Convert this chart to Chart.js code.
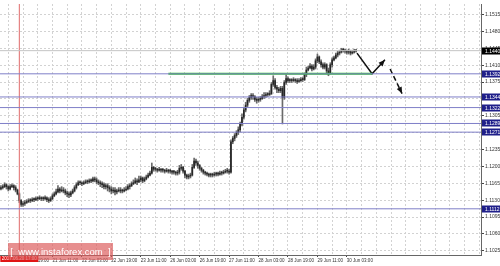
<!DOCTYPE html>
<html>
<head>
<meta charset="utf-8">
<script src="https://cdn.jsdelivr.net/npm/chart.js@4.4.0/dist/chart.umd.min.js"></script>
<style>
  html, body { margin: 0; padding: 0; background: #fff; }
  #wrap { width: 500px; height: 266px; }
</style>
</head>
<body>
<div id="wrap"><canvas id="chart" width="500" height="266"></canvas></div>
<script>
// hourly bars, 20 Jun - 30 Jun 2017 (weekend skipped), one value per bar
let opens = [
  1.1153,1.1156,1.1158,1.1162,1.1158,1.1153,1.1158,1.1160,
  1.1156,1.1151,1.1143,1.1129,1.1121,1.1123,1.1125,1.1127,
  1.1129,1.1129,1.1131,1.1131,1.1133,1.1133,1.1135,1.1133,
  1.1133,1.1135,1.1131,1.1129,1.1133,1.1139,1.1143,1.1147,
  1.1153,1.1149,1.1151,1.1149,1.1145,1.1143,1.1141,1.1145,
  1.1149,1.1156,1.1162,1.1166,1.1166,1.1164,1.1166,1.1168,
  1.1168,1.1170,1.1170,1.1174,1.1172,1.1168,1.1166,1.1164,
  1.1162,1.1158,1.1160,1.1156,1.1153,1.1149,1.1151,1.1147,
  1.1149,1.1151,1.1149,1.1149,1.1151,1.1153,1.1158,1.1160,
  1.1164,1.1166,1.1170,1.1168,1.1172,1.1176,1.1170,1.1174,
  1.1178,1.1182,1.1186,1.1198,1.1194,1.1194,1.1192,1.1194,
  1.1192,1.1192,1.1190,1.1192,1.1190,1.1190,1.1188,1.1188,
  1.1186,1.1188,1.1196,1.1198,1.1190,1.1182,1.1178,1.1180,
  1.1182,1.1198,1.1211,1.1207,1.1202,1.1196,1.1192,1.1188,
  1.1186,1.1184,1.1182,1.1182,1.1182,1.1184,1.1184,1.1184,
  1.1186,1.1186,1.1188,1.1190,1.1190,1.1188,1.1251,1.1258,
  1.1264,1.1270,1.1276,1.1288,1.1302,1.1317,1.1327,1.1337,
  1.1343,1.1347,1.1345,1.1339,1.1337,1.1339,1.1341,1.1345,
  1.1347,1.1349,1.1349,1.1351,1.1370,1.1378,1.1364,1.1360,
  1.1357,1.1362,1.1343,1.1374,1.1382,1.1378,1.1378,1.1378,
  1.1380,1.1378,1.1376,1.1378,1.1380,1.1380,1.1390,1.1400,
  1.1404,1.1408,1.1402,1.1406,1.1419,1.1427,1.1417,1.1411,
  1.1406,1.1411,1.1398,1.1394,1.1411,1.1421,1.1425,1.1431,
  1.1435,1.1437,1.1441,1.1441,1.1439,1.1437,1.1439,1.1435,
  1.1437,1.1439
]
let highs = [
  1.1160,1.1162,1.1166,1.1164,1.1160,1.1162,1.1164,1.1162,
  1.1160,1.1153,1.1145,1.1131,1.1127,1.1129,1.1131,1.1133,
  1.1133,1.1135,1.1135,1.1137,1.1137,1.1139,1.1137,1.1137,
  1.1139,1.1137,1.1135,1.1137,1.1143,1.1147,1.1153,1.1160,
  1.1156,1.1158,1.1156,1.1153,1.1149,1.1147,1.1149,1.1153,
  1.1160,1.1166,1.1170,1.1170,1.1168,1.1170,1.1172,1.1172,
  1.1174,1.1174,1.1178,1.1178,1.1176,1.1172,1.1170,1.1168,
  1.1166,1.1164,1.1164,1.1160,1.1158,1.1156,1.1156,1.1153,
  1.1156,1.1156,1.1153,1.1156,1.1158,1.1162,1.1164,1.1168,
  1.1172,1.1176,1.1174,1.1180,1.1180,1.1178,1.1178,1.1182,
  1.1186,1.1190,1.1207,1.1200,1.1198,1.1196,1.1198,1.1196,
  1.1196,1.1194,1.1196,1.1194,1.1194,1.1192,1.1192,1.1190,
  1.1192,1.1202,1.1204,1.1200,1.1192,1.1184,1.1184,1.1186,
  1.1204,1.1217,1.1215,1.1211,1.1204,1.1198,1.1194,1.1190,
  1.1188,1.1186,1.1186,1.1186,1.1188,1.1188,1.1188,1.1190,
  1.1190,1.1192,1.1194,1.1196,1.1194,1.1255,1.1262,1.1268,
  1.1274,1.1282,1.1292,1.1309,1.1323,1.1333,1.1341,1.1347,
  1.1351,1.1351,1.1347,1.1343,1.1343,1.1345,1.1349,1.1353,
  1.1353,1.1353,1.1357,1.1374,1.1388,1.1382,1.1368,1.1364,
  1.1366,1.1366,1.1378,1.1390,1.1386,1.1382,1.1382,1.1384,
  1.1382,1.1382,1.1382,1.1384,1.1384,1.1394,1.1406,1.1408,
  1.1413,1.1411,1.1411,1.1423,1.1433,1.1429,1.1421,1.1415,
  1.1415,1.1413,1.1404,1.1415,1.1425,1.1429,1.1435,1.1439,
  1.1441,1.1445,1.1445,1.1443,1.1441,1.1443,1.1441,1.1441,
  1.1443,1.1443
]
let lows = [
  1.1151,1.1153,1.1156,1.1153,1.1149,1.1151,1.1156,1.1151,
  1.1147,1.1141,1.1125,1.1117,1.1117,1.1119,1.1123,1.1125,
  1.1125,1.1127,1.1127,1.1129,1.1129,1.1131,1.1129,1.1129,
  1.1131,1.1127,1.1125,1.1127,1.1131,1.1137,1.1141,1.1145,
  1.1145,1.1147,1.1145,1.1141,1.1137,1.1135,1.1137,1.1143,
  1.1147,1.1153,1.1160,1.1162,1.1160,1.1162,1.1164,1.1164,
  1.1166,1.1166,1.1168,1.1168,1.1164,1.1162,1.1158,1.1156,
  1.1153,1.1153,1.1149,1.1147,1.1143,1.1145,1.1141,1.1143,
  1.1147,1.1145,1.1145,1.1147,1.1149,1.1151,1.1153,1.1158,
  1.1162,1.1164,1.1162,1.1166,1.1168,1.1166,1.1168,1.1172,
  1.1176,1.1180,1.1184,1.1190,1.1190,1.1188,1.1190,1.1188,
  1.1188,1.1186,1.1188,1.1186,1.1186,1.1184,1.1184,1.1182,
  1.1182,1.1184,1.1192,1.1186,1.1176,1.1174,1.1174,1.1176,
  1.1180,1.1196,1.1202,1.1196,1.1192,1.1188,1.1184,1.1182,
  1.1180,1.1178,1.1178,1.1178,1.1180,1.1180,1.1180,1.1182,
  1.1182,1.1184,1.1186,1.1186,1.1184,1.1186,1.1247,1.1253,
  1.1260,1.1266,1.1272,1.1284,1.1298,1.1313,1.1323,1.1333,
  1.1339,1.1339,1.1335,1.1331,1.1333,1.1335,1.1339,1.1341,
  1.1343,1.1345,1.1347,1.1349,1.1366,1.1360,1.1353,1.1353,
  1.1353,1.1288,1.1339,1.1370,1.1374,1.1374,1.1374,1.1376,
  1.1374,1.1372,1.1374,1.1376,1.1376,1.1378,1.1386,1.1398,
  1.1402,1.1398,1.1400,1.1402,1.1415,1.1413,1.1406,1.1402,
  1.1402,1.1392,1.1388,1.1392,1.1406,1.1419,1.1423,1.1427,
  1.1431,1.1435,1.1437,1.1435,1.1433,1.1433,1.1431,1.1433,
  1.1435,1.1437
]
let closes = [
  1.1156,1.1158,1.1162,1.1158,1.1153,1.1158,1.1160,1.1156,
  1.1151,1.1143,1.1129,1.1121,1.1123,1.1125,1.1127,1.1129,
  1.1129,1.1131,1.1131,1.1133,1.1133,1.1135,1.1133,1.1133,
  1.1135,1.1131,1.1129,1.1133,1.1139,1.1143,1.1147,1.1153,
  1.1149,1.1151,1.1149,1.1145,1.1143,1.1141,1.1145,1.1149,
  1.1156,1.1162,1.1166,1.1166,1.1164,1.1166,1.1168,1.1168,
  1.1170,1.1170,1.1174,1.1172,1.1168,1.1166,1.1164,1.1162,
  1.1158,1.1160,1.1156,1.1153,1.1149,1.1151,1.1147,1.1149,
  1.1151,1.1149,1.1149,1.1151,1.1153,1.1158,1.1160,1.1164,
  1.1166,1.1170,1.1168,1.1172,1.1176,1.1170,1.1174,1.1178,
  1.1182,1.1186,1.1198,1.1194,1.1194,1.1192,1.1194,1.1192,
  1.1192,1.1190,1.1192,1.1190,1.1190,1.1188,1.1188,1.1186,
  1.1188,1.1196,1.1198,1.1190,1.1182,1.1178,1.1180,1.1182,
  1.1198,1.1211,1.1207,1.1202,1.1196,1.1192,1.1188,1.1186,
  1.1184,1.1182,1.1182,1.1182,1.1184,1.1184,1.1184,1.1186,
  1.1186,1.1188,1.1190,1.1190,1.1188,1.1251,1.1258,1.1264,
  1.1270,1.1276,1.1288,1.1302,1.1317,1.1327,1.1337,1.1343,
  1.1347,1.1345,1.1339,1.1337,1.1339,1.1341,1.1345,1.1347,
  1.1349,1.1349,1.1351,1.1370,1.1378,1.1364,1.1360,1.1357,
  1.1362,1.1343,1.1374,1.1382,1.1378,1.1378,1.1378,1.1380,
  1.1378,1.1376,1.1378,1.1380,1.1380,1.1390,1.1400,1.1404,
  1.1408,1.1402,1.1406,1.1419,1.1427,1.1417,1.1411,1.1406,
  1.1411,1.1398,1.1394,1.1411,1.1421,1.1425,1.1431,1.1435,
  1.1437,1.1441,1.1441,1.1439,1.1437,1.1439,1.1435,1.1437,
  1.1439,1.1440
]

// price axis
let yTicks = [1.1025, 1.1060, 1.1095, 1.1130, 1.1165, 1.1200, 1.1235, 1.1270,
              1.1305, 1.1340, 1.1375, 1.1410, 1.1445, 1.1480, 1.1515]
// time axis: bar index of each label
let labelBars = [12, 28, 44, 60, 76, 92, 108, 124, 140, 156, 172, 188]
let timeLabels = ['20 Jun 19:00', '21 Jun 11:00', '22 Jun 03:00', '22 Jun 19:00',
                  '23 Jun 11:00', '26 Jun 03:00', '26 Jun 19:00', '27 Jun 11:00',
                  '28 Jun 03:00', '28 Jun 19:00', '29 Jun 11:00', '30 Jun 03:00']

// drawn levels
let levelPrices = [1.1392, 1.1344, 1.1322, 1.1289, 1.1271, 1.1112]
let bidPrice = 1.1440
let greenLevel = { from: 91, to: 201.7, price: 1.1392 }
let separatorBar = 10
let separatorLabel = '2017.06.20 17:00'
let arrowSolid = [[193.5, 1.1435], [201.7, 1.1392], [208.7, 1.1421]]
let arrowDashed = [[211.5, 1.1402], [218, 1.1351]]

const xMin = -0.5
const xMax = 260.9
const yMin = 1.10162
const yMax = 1.15368

const wickData = highs.map((h, i) => ({ x: i, y: [lows[i], h] }))
const bodyData = opens.map((o, i) => ({ x: i, y: [o, closes[i]] }))

const hLine = (price, color, width, from = xMin, to = xMax) => ({
    type: 'line',
    data: [{ x: from, y: price }, { x: to, y: price }],
    borderColor: color,
    borderWidth: width,
    pointRadius: 0,
    order: 0
})

const datasets = [
    {
        type: 'bar',
        data: wickData,
        backgroundColor: '#6a6a6a',
        barThickness: 1,
        grouped: false,
        order: 3
    },
    {
        type: 'bar',
        data: bodyData,
        backgroundColor: '#262626',
        barThickness: 1,
        minBarLength: 1,
        grouped: false,
        order: 2
    },
    hLine(bidPrice, '#c4c4c4', 1),
    ...levelPrices.map(p => hLine(p, '#7f7fc8', 1)),
    hLine(greenLevel.price, '#2fbf2f', 2, greenLevel.from, greenLevel.to),
    {
        type: 'line',
        data: [{ x: separatorBar, y: yMin }, { x: separatorBar, y: yMax }],
        borderColor: '#e06a6a',
        borderWidth: 1,
        pointRadius: 0,
        order: 1
    },
    {
        type: 'line',
        data: arrowSolid.map(p => ({ x: p[0], y: p[1] })),
        borderColor: '#111',
        borderWidth: 1.5,
        pointRadius: 0,
        order: 0
    },
    {
        type: 'line',
        data: arrowDashed.map(p => ({ x: p[0], y: p[1] })),
        borderColor: '#111',
        borderWidth: 1.5,
        borderDash: [5, 3],
        pointRadius: 0,
        order: 0
    }
]

const drawHead = (ctx, x, y, p1, p2) => {
    const a1 = x.getPixelForValue(p1[0]), b1 = y.getPixelForValue(p1[1])
    const a2 = x.getPixelForValue(p2[0]), b2 = y.getPixelForValue(p2[1])
    const ang = Math.atan2(b2 - b1, a2 - a1)
    ctx.save()
    ctx.fillStyle = '#111'
    ctx.beginPath()
    ctx.moveTo(a2, b2)
    ctx.lineTo(a2 - 7 * Math.cos(ang - 0.4), b2 - 7 * Math.sin(ang - 0.4))
    ctx.lineTo(a2 - 7 * Math.cos(ang + 0.4), b2 - 7 * Math.sin(ang + 0.4))
    ctx.closePath()
    ctx.fill()
    ctx.restore()
}

const priceTag = (ctx, y, price, bg) => {
    const py = Math.round(y.getPixelForValue(price))
    ctx.fillStyle = bg
    ctx.fillRect(y.left + 1, py - 3.5, y.width - 1, 7)
    ctx.fillStyle = '#fff'
    ctx.font = '5px "Liberation Sans", Arial, sans-serif'
    ctx.textBaseline = 'middle'
    ctx.textAlign = 'left'
    ctx.fillText(price.toFixed(4), y.left + 4, py + 0.5)
}

const overlay = {
    id: 'overlay',
    afterDraw(chart) {
        const { ctx, scales: { x, y } } = chart
        drawHead(ctx, x, y, arrowSolid[1], arrowSolid[2])
        drawHead(ctx, x, y, arrowDashed[0], arrowDashed[1])

        ctx.save()
        levelPrices.forEach(p => priceTag(ctx, y, p, '#1f1f8a'))
        priceTag(ctx, y, bidPrice, '#000')

        // separator time label
        const sx = x.getPixelForValue(separatorBar)
        ctx.fillStyle = '#e01515'
        ctx.fillRect(sx - 19, x.top + 1, 38, 6)
        ctx.fillStyle = '#fff'
        ctx.font = '4.5px "Liberation Sans", Arial, sans-serif'
        ctx.textAlign = 'center'
        ctx.textBaseline = 'middle'
        ctx.fillText(separatorLabel, sx, x.top + 4)

        // watermark
        ctx.fillStyle = 'rgba(220, 90, 90, 0.68)'
        ctx.fillRect(8, 243, 105, 17)
        ctx.fillStyle = '#fff'
        ctx.font = '9.5px "Liberation Sans", Arial, sans-serif'
        ctx.fillText('[  www.instaforex.com  ]', 60.5, 252)
        ctx.restore()
    }
}

const gridBars = []
for (let v = 4; v <= 260; v += 8) gridBars.push(v)

new Chart(document.getElementById('chart'), {
    type: 'bar',
    data: { datasets: datasets },
    options: {
        responsive: false,
        animation: false,
        devicePixelRatio: 1,
        events: [],
        layout: { padding: 0 },
        plugins: { legend: { display: false }, tooltip: { enabled: false } },
        scales: {
            x: {
                type: 'linear',
                min: xMin,
                max: xMax,
                offset: false,
                afterBuildTicks: s => { s.ticks = gridBars.map(v => ({ value: v })) },
                afterFit: s => { s.height = 11 },
                grid: {
                    offset: false,
                    color: '#d2d2d2',
                    tickLength: 2,
                    tickColor: c => labelBars.includes(c.tick && c.tick.value) ? '#444' : 'rgba(0,0,0,0)'
                },
                border: { color: '#666', dash: [2, 2] },
                ticks: {
                    autoSkip: false,
                    maxRotation: 0,
                    align: 'start',
                    padding: 1,
                    color: '#333',
                    font: { size: 4.5, family: '"Liberation Sans", Arial, sans-serif' },
                    callback: v => {
                        const k = labelBars.indexOf(v)
                        return k < 0 ? '' : timeLabels[k]
                    }
                }
            },
            y: {
                position: 'right',
                min: yMin,
                max: yMax,
                afterBuildTicks: s => { s.ticks = yTicks.map(v => ({ value: v })) },
                afterFit: s => { s.width = 19 },
                grid: { color: '#d2d2d2', tickLength: 3, tickColor: '#444' },
                border: { color: '#666', dash: [2, 2] },
                ticks: {
                    padding: 1,
                    color: '#333',
                    font: { size: 5, family: '"Liberation Sans", Arial, sans-serif' },
                    callback: v => v.toFixed(4)
                }
            }
        }
    },
    plugins: [overlay]
})
</script>
</body>
</html>
